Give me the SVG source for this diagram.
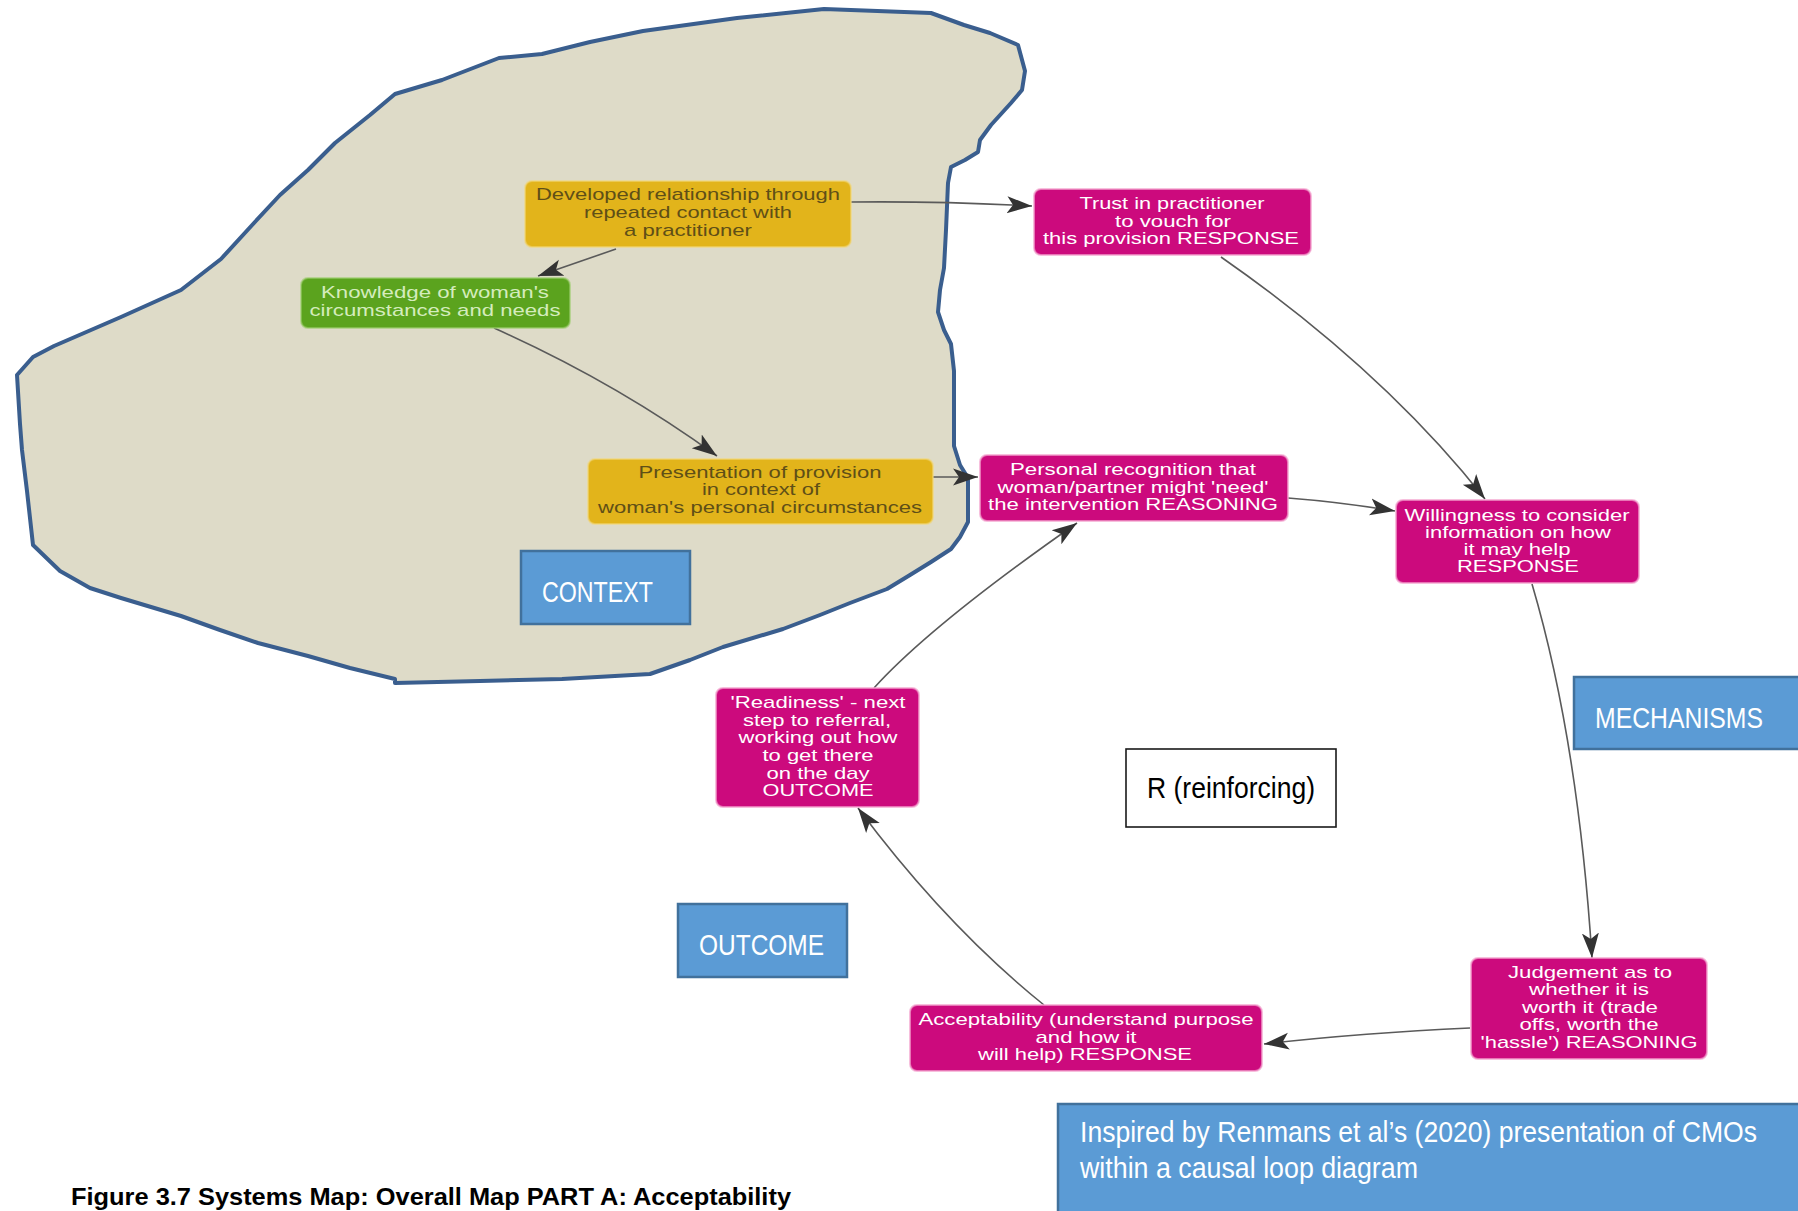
<svg xmlns="http://www.w3.org/2000/svg" width="1798" height="1211" viewBox="0 0 1798 1211">
  <defs>
    <style>
      .node-text { font-family: "Liberation Sans", Arial, sans-serif; font-size: 17px; text-anchor: middle; }
      .gold rect { fill: #e2b41b; stroke: #f2d77a; stroke-width: 2; stroke-opacity: 0.6; }
      .gold text { fill: #5f4f17; }
      .green rect { fill: #5ba31e; stroke: #9ccd6e; stroke-width: 2; stroke-opacity: 0.6; }
      .green text { fill: #d4ecbd; }
      .magenta rect { fill: #cc0a7d; stroke: #f3a4cf; stroke-width: 2; stroke-opacity: 0.7; }
      .magenta text { fill: #ffffff; }
      .label rect { fill: #5b9bd5; stroke: #41719c; stroke-width: 2.5; }
      .label text { fill: #ffffff; font-family: "Liberation Sans Narrow", "Liberation Sans", Arial, sans-serif; font-size: 29px; }
      .edge { fill: none; stroke: #5a5a5a; stroke-width: 1.6; marker-end: url(#arrow); }
    </style>
    <marker id="arrow" viewBox="0 0 26 20" markerUnits="userSpaceOnUse" markerWidth="26" markerHeight="20" refX="25" refY="10" orient="auto">
      <path d="M0,1.5 L25,10 L0,18.5 L6,10 Z" fill="#333333"/>
    </marker>
  </defs>

  <rect x="0" y="0" width="1798" height="1211" fill="#ffffff"/>

  <!-- hand-drawn context region -->
  <path id="context-region" d="M737,18 L824,9 L931,13 L964,25 L990,33 L1018,45 L1025,71 L1022,90 L1011,103 L991,125 L980,140 L978,152 L965,160 L951,167 L948,183 L946,230 L944,268 L940,290 L938,312 L944,330 L951,344 L954,371 L954,410 L954,446 L960,465 L968,478 L968,522 L960,537 L951,549 L931,562 L910,575 L887,589 L850,603 L820,615 L783,629 L723,647 L690,660 L650,674 L562,679 L480,681 L395,683 L395,679 L350,668 L308,656 L258,643 L220,630 L181,616 L121,598 L90,588 L60,571 L33,545 L27,491 L22,450 L20,424 L17,375 L33,357 L54,346 L121,317 L181,290 L221,259 L254,223 L280,195 L308,170 L335,143 L370,115 L395,94 L442,80 L499,58 L542,54 L590,42 L643,31 Z" fill="#dedbc8" stroke="#3a5e8e" stroke-width="4" stroke-linejoin="round"/>

  <!-- connectors -->
  <g id="connectors">
    <path class="edge" d="M851,202 Q940,201 1032,206"/>
    <path class="edge" d="M616,249 L538,276"/>
    <path class="edge" d="M494,328 Q615,382 717,456"/>
    <path class="edge" d="M933,477 L978,477"/>
    <path class="edge" d="M1221,257 Q1383,370 1485,499"/>
    <path class="edge" d="M1288,498 Q1340,502 1395,511"/>
    <path class="edge" d="M1532,584 Q1578,740 1592,958"/>
    <path class="edge" d="M1470,1028 Q1360,1033 1264,1044"/>
    <path class="edge" d="M1044,1005 Q946,926 858,808"/>
    <path class="edge" d="M874,688 Q931,625 1077,523"/>
  </g>

  <g id="developed-relationship" class="gold">
    <rect x="525" y="181" width="326" height="66" rx="7"/>
    <text class="node-text" x="688" y="200" textLength="304" lengthAdjust="spacingAndGlyphs">Developed relationship through</text>
    <text class="node-text" x="688" y="218" textLength="208" lengthAdjust="spacingAndGlyphs">repeated contact with</text>
    <text class="node-text" x="688" y="236" textLength="128" lengthAdjust="spacingAndGlyphs">a practitioner</text>
  </g>

  <g id="knowledge-of-circumstances" class="green">
    <rect x="301" y="278" width="269" height="50" rx="7"/>
    <text class="node-text" x="435" y="298" textLength="228" lengthAdjust="spacingAndGlyphs">Knowledge of woman's</text>
    <text class="node-text" x="435" y="316" textLength="251" lengthAdjust="spacingAndGlyphs">circumstances and needs</text>
  </g>

  <g id="presentation-of-provision" class="gold">
    <rect x="588" y="459" width="345" height="65" rx="7"/>
    <text class="node-text" x="760" y="478" textLength="243" lengthAdjust="spacingAndGlyphs">Presentation of provision</text>
    <text class="node-text" x="761" y="495" textLength="118" lengthAdjust="spacingAndGlyphs">in context of</text>
    <text class="node-text" x="760" y="513" textLength="324" lengthAdjust="spacingAndGlyphs">woman's personal circumstances</text>
  </g>

  <g id="trust-in-practitioner" class="magenta">
    <rect x="1034" y="189" width="277" height="66" rx="7"/>
    <text class="node-text" x="1172" y="209" textLength="185" lengthAdjust="spacingAndGlyphs">Trust in practitioner</text>
    <text class="node-text" x="1173" y="227" textLength="116" lengthAdjust="spacingAndGlyphs">to vouch for</text>
    <text class="node-text" x="1171" y="244" textLength="256" lengthAdjust="spacingAndGlyphs">this provision RESPONSE</text>
  </g>

  <g id="personal-recognition" class="magenta">
    <rect x="980" y="455" width="308" height="66" rx="7"/>
    <text class="node-text" x="1133" y="475" textLength="246" lengthAdjust="spacingAndGlyphs">Personal recognition that</text>
    <text class="node-text" x="1133" y="493" textLength="271" lengthAdjust="spacingAndGlyphs">woman/partner might 'need'</text>
    <text class="node-text" x="1133" y="510" textLength="290" lengthAdjust="spacingAndGlyphs">the intervention REASONING</text>
  </g>

  <g id="willingness-to-consider" class="magenta">
    <rect x="1396" y="500" width="243" height="83" rx="7"/>
    <text class="node-text" x="1517" y="521" textLength="225" lengthAdjust="spacingAndGlyphs">Willingness to consider</text>
    <text class="node-text" x="1518" y="538" textLength="186" lengthAdjust="spacingAndGlyphs">information on how</text>
    <text class="node-text" x="1517" y="555" textLength="107" lengthAdjust="spacingAndGlyphs">it may help</text>
    <text class="node-text" x="1518" y="572" textLength="122" lengthAdjust="spacingAndGlyphs">RESPONSE</text>
  </g>

  <g id="judgement-worth-it" class="magenta">
    <rect x="1471" y="958" width="236" height="101" rx="7"/>
    <text class="node-text" x="1590" y="978" textLength="164" lengthAdjust="spacingAndGlyphs">Judgement as to</text>
    <text class="node-text" x="1589" y="995" textLength="120" lengthAdjust="spacingAndGlyphs">whether it is</text>
    <text class="node-text" x="1590" y="1013" textLength="136" lengthAdjust="spacingAndGlyphs">worth it (trade</text>
    <text class="node-text" x="1589" y="1030" textLength="139" lengthAdjust="spacingAndGlyphs">offs, worth the</text>
    <text class="node-text" x="1589" y="1048" textLength="217" lengthAdjust="spacingAndGlyphs">'hassle') REASONING</text>
  </g>

  <g id="acceptability" class="magenta">
    <rect x="910" y="1005" width="352" height="66" rx="7"/>
    <text class="node-text" x="1086" y="1025" textLength="335" lengthAdjust="spacingAndGlyphs">Acceptability (understand purpose</text>
    <text class="node-text" x="1086" y="1043" textLength="101" lengthAdjust="spacingAndGlyphs">and how it</text>
    <text class="node-text" x="1085" y="1060" textLength="214" lengthAdjust="spacingAndGlyphs">will help) RESPONSE</text>
  </g>

  <g id="readiness" class="magenta">
    <rect x="716" y="688" width="203" height="119" rx="7"/>
    <text class="node-text" x="818" y="708" textLength="175" lengthAdjust="spacingAndGlyphs">'Readiness' - next</text>
    <text class="node-text" x="817" y="726" textLength="148" lengthAdjust="spacingAndGlyphs">step to referral,</text>
    <text class="node-text" x="818" y="743" textLength="159" lengthAdjust="spacingAndGlyphs">working out how</text>
    <text class="node-text" x="818" y="761" textLength="111" lengthAdjust="spacingAndGlyphs">to get there</text>
    <text class="node-text" x="818" y="779" textLength="103" lengthAdjust="spacingAndGlyphs">on the day</text>
    <text class="node-text" x="818" y="796" textLength="111" lengthAdjust="spacingAndGlyphs">OUTCOME</text>
  </g>

  <!-- section labels -->
  <g id="label-context" class="label">
    <rect x="521" y="551" width="169" height="73"/>
    <text x="542" y="602" textLength="111" lengthAdjust="spacingAndGlyphs">CONTEXT</text>
  </g>

  <g id="label-mechanisms" class="label">
    <rect x="1574" y="677" width="228" height="72"/>
    <text x="1595" y="728" textLength="168" lengthAdjust="spacingAndGlyphs">MECHANISMS</text>
  </g>

  <g id="label-outcome" class="label">
    <rect x="678" y="904" width="169" height="73"/>
    <text x="699" y="955" textLength="125" lengthAdjust="spacingAndGlyphs">OUTCOME</text>
  </g>

  <g id="label-reinforcing">
    <rect x="1126" y="749" width="210" height="78" fill="#ffffff" stroke="#1a1a1a" stroke-width="1.6"/>
    <text x="1147" y="798" font-family="Liberation Sans Narrow, Liberation Sans, Arial, sans-serif" font-size="29" fill="#000000" textLength="168" lengthAdjust="spacingAndGlyphs">R (reinforcing)</text>
  </g>

  <g id="label-inspired" class="label">
    <rect x="1058" y="1104" width="745" height="112"/>
    <text x="1080" y="1142" font-size="28" textLength="677" lengthAdjust="spacingAndGlyphs">Inspired by Renmans et al’s (2020) presentation of CMOs</text>
    <text x="1080" y="1178" font-size="28" textLength="338" lengthAdjust="spacingAndGlyphs">within a causal loop diagram</text>
  </g>

  <text id="caption" x="71" y="1205" font-family="Liberation Sans Narrow, Liberation Sans, Arial, sans-serif" font-size="24" font-weight="bold" fill="#000000" textLength="720" lengthAdjust="spacingAndGlyphs">Figure 3.7 Systems Map: Overall Map PART A: Acceptability</text>
</svg>
